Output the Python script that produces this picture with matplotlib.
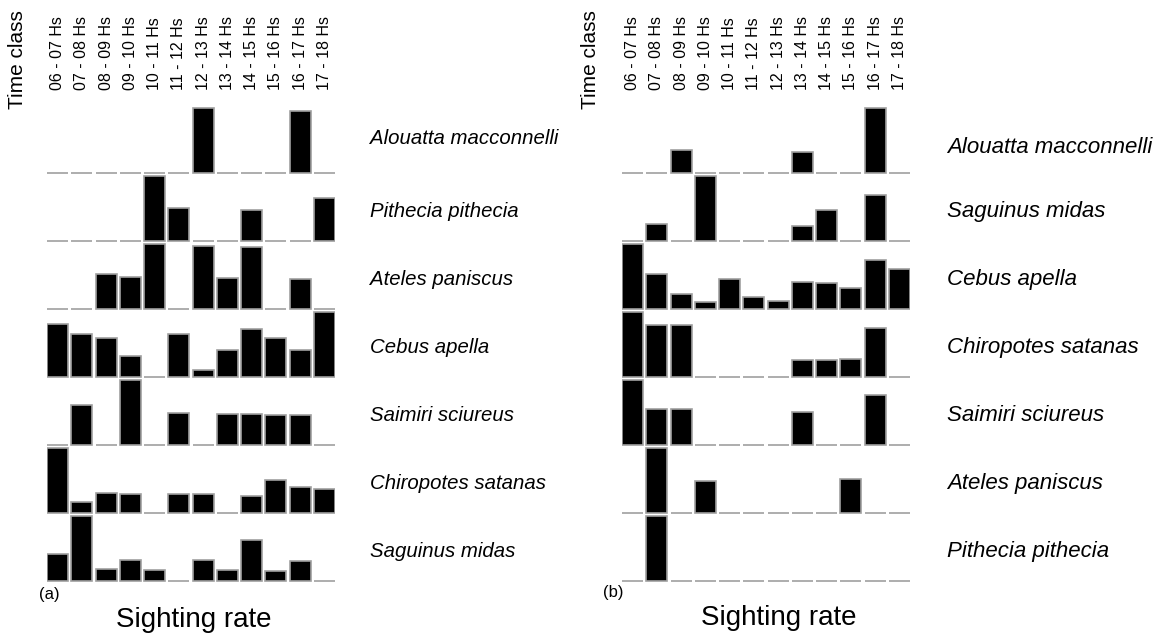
import numpy as np
import matplotlib
matplotlib.use("Agg")
import matplotlib.pyplot as plt
from matplotlib.transforms import blended_transform_factory

plt.rcParams['font.family'] = ['Liberation Sans', 'DejaVu Sans']

# Time classes (columns)
hours = ["06 - 07 Hs", "07 - 08 Hs", "08 - 09 Hs", "09 - 10 Hs", "10 - 11 Hs", "11 - 12 Hs",
         "12 - 13 Hs", "13 - 14 Hs", "14 - 15 Hs", "15 - 16 Hs", "16 - 17 Hs", "17 - 18 Hs"]

# Panel (a) - top row first
species_a = ["Alouatta macconnelli", "Pithecia pithecia", "Ateles paniscus", "Cebus apella",
             "Saimiri sciureus", "Chiropotes satanas", "Saguinus midas"]
alouatta_a   = [0, 0, 0, 0, 0, 0, 64, 0, 0, 0, 61, 0]
pithecia_a   = [0, 0, 0, 0, 64, 33, 0, 0, 31, 0, 0, 42]
ateles_a     = [0, 0, 35, 32, 65, 0, 63, 31, 62, 0, 30, 0]
cebus_a      = [53, 43, 39, 21, 0, 43, 7, 27, 48, 39, 27, 65]
saimiri_a    = [0, 39, 0, 64, 0, 32, 0, 31, 31, 30, 30, 0]
chiropotes_a = [65, 11, 20, 19, 0, 19, 19, 0, 17, 33, 26, 24]
saguinus_a   = [27, 65, 12, 21, 11, 0, 21, 11, 41, 10, 20, 0]

# Panel (b) - top row first
species_b = ["Alouatta macconnelli", "Saguinus midas", "Cebus apella", "Chiropotes satanas",
             "Saimiri sciureus", "Ateles paniscus", "Pithecia pithecia"]
alouatta_b   = [0, 0, 23, 0, 0, 0, 0, 21, 0, 0, 64, 0]
saguinus_b   = [0, 17, 0, 64, 0, 0, 0, 15, 31, 0, 45, 0]
cebus_b      = [65, 35, 15, 7, 30, 12, 8, 27, 26, 21, 49, 40]
chiropotes_b = [65, 52, 52, 0, 0, 0, 0, 17, 17, 18, 49, 0]
saimiri_b    = [64, 35, 35, 0, 0, 0, 0, 33, 0, 0, 49, 0]
ateles_b     = [0, 64, 0, 32, 0, 0, 0, 0, 0, 34, 0, 0]
pithecia_b   = [0, 65, 0, 0, 0, 0, 0, 0, 0, 0, 0, 0]

rows_a = [alouatta_a, pithecia_a, ateles_a, cebus_a, saimiri_a, chiropotes_a, saguinus_a]
rows_b = [alouatta_b, saguinus_b, cebus_b, chiropotes_b, saimiri_b, ateles_b, pithecia_b]

W, H = 1167, 641
fig = plt.figure(figsize=(W / 100, H / 100), dpi=100)

BW = 0.875  # bar width in slot units
PX = 68.0   # pixels per row


def panel(x0, rows, names, letter, name_x, name_fs, first_off):
    # axes placed so bars span x0..x0+288 px, bottom baseline at 581 px
    ybot = 581 + 0.1 * PX
    ytop = 581 - 7 * PX
    ax = fig.add_axes([x0 / W, 1 - ybot / H, 288 / W, (ybot - ytop) / H])
    ax.set_xlim(-BW / 2, 11 + BW / 2)
    ax.set_ylim(-0.1, 7)
    x = np.arange(len(hours))
    n = len(rows)
    for k, vals in enumerate(rows):
        vals = np.array(vals, dtype=float)
        base = n - 1 - k
        h = vals / vals.max() * 0.955
        ax.bar(x, h, width=BW, bottom=base, color='black',
               edgecolor='#a0a0a0', linewidth=1.2)
    for s in ax.spines.values():
        s.set_visible(False)
    ax.set_yticks([])
    ax.set_xticks(x)
    ax.set_xticklabels(hours)
    ax.xaxis.set_ticks_position('top')
    ax.tick_params(axis='x', length=0, pad=11, labelrotation=90, labelsize=11.5)

    tr = blended_transform_factory(fig.transFigure, ax.transData)
    for k, nm in enumerate(names):
        off = first_off if k == 0 else 0.43
        ax.text(name_x / W, n - 1 - k + off, nm, transform=tr, style='italic',
                fontsize=name_fs, va='center', ha='left')
    return ax


panel(47, rows_a, species_a, "(a)", 370, 14.7, 0.51)
panel(622, rows_b, species_b, "(b)", 947, 16, 0.37)

fig.text(17.5 / W, 1 - 60 / H, "Time class", rotation=90, fontsize=15, ha='center', va='center')
fig.text(590 / W, 1 - 60 / H, "Time class", rotation=90, fontsize=15, ha='center', va='center')
fig.text(194 / W, 1 - 620 / H, "Sighting rate", fontsize=20, ha='center', va='center')
fig.text(779 / W, 1 - 618 / H, "Sighting rate", fontsize=20, ha='center', va='center')
fig.text(49.5 / W, 1 - 595 / H, "(a)", fontsize=12, ha='center', va='center')
fig.text(613 / W, 1 - 593 / H, "(b)", fontsize=12, ha='center', va='center')

fig.savefig("out.png", dpi=100, facecolor='white')
